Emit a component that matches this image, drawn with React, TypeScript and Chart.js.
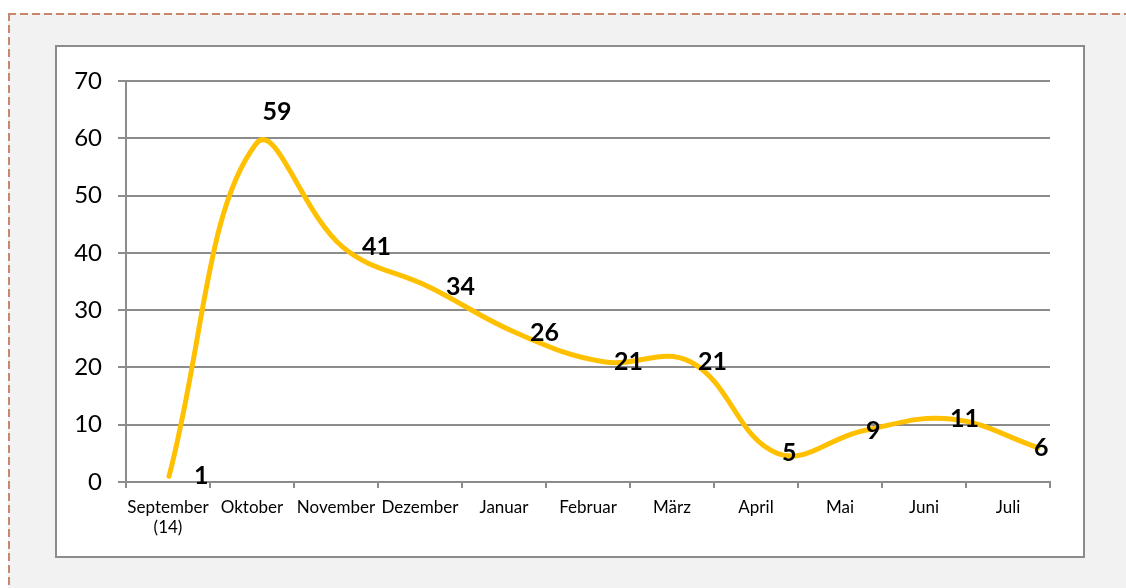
import React, { useEffect, useRef } from "react";
import { Chart, registerables } from "chart.js";

Chart.register(...registerables);

const categories: (string | string[])[] = [
  ["September", "(14)"],
  "Oktober",
  "November",
  "Dezember",
  "Januar",
  "Februar",
  "März",
  "April",
  "Mai",
  "Juni",
  "Juli",
];
const values: number[] = [1, 59, 41, 34, 26, 21, 21, 5, 9, 11, 6];
const yTicks = { min: 0, max: 70, step: 10 };
// hidden linear axis range used to place the smoothed line
const lineAxisRange = { min: -0.495, max: 10.138 };

const FONT = "Lato, 'Open Sans', sans-serif";

const labelPlugin = {
  id: "valueLabels",
  afterDatasetsDraw(chart: any) {
    const { ctx } = chart;
    const xs = chart.scales.x;
    const ys = chart.scales.y;
    const maxV = Math.max(...values);
    ctx.save();
    ctx.fillStyle = "#000";
    ctx.font = `bold 25px ${FONT}`;
    ctx.textBaseline = "middle";
    values.forEach((v, i) => {
      const cx = xs.getPixelForValue(i);
      const cy = ys.getPixelForValue(v);
      if (v === maxV) {
        ctx.textAlign = "center";
        ctx.fillText(String(v), cx + 25, cy - 32);
      } else {
        ctx.textAlign = "left";
        ctx.fillText(String(v), cx + 26, cy);
      }
    });
    ctx.restore();
  },
};

const dash = (dir: string) =>
  `repeating-linear-gradient(${dir}, #c8866a 0px, #c8866a 8px, transparent 8px, transparent 12px)`;

export default function App() {
  const ref = useRef<HTMLCanvasElement | null>(null);
  useEffect(() => {
    const canvas = ref.current;
    if (!canvas) return;
    const chart = new Chart(canvas, {
      type: "line",
      data: {
        labels: categories as any,
        datasets: [
          {
            data: values.map((v, i) => ({ x: i, y: v })),
            xAxisID: "xl",
            yAxisID: "y",
            borderColor: "#FFC000",
            borderWidth: 5,
            borderCapStyle: "round",
            borderJoinStyle: "round",
            pointRadius: 0,
            pointHoverRadius: 0,
            tension: 0.4,
            fill: false,
          },
        ],
      },
      options: {
        animation: false,
        responsive: false,
        maintainAspectRatio: false,
        events: [],
        layout: { padding: { left: 0, top: 81, right: 76, bottom: 0 } },
        plugins: { legend: { display: false }, tooltip: { enabled: false } },
        scales: {
          x: {
            type: "category",
            offset: true,
            grid: {
              offset: true,
              drawOnChartArea: false,
              drawTicks: true,
              tickLength: 6,
              color: "#8c8c8c",
              lineWidth: 2,
            },
            border: { color: "#8c8c8c", width: 2 },
            ticks: {
              color: "#000",
              font: { family: FONT, size: 17, lineHeight: 1.15 },
              padding: 10,
              maxRotation: 0,
              autoSkip: false,
            },
            afterFit: (s: any) => {
              s.height = 106;
            },
          },
          xl: {
            type: "linear",
            display: false,
            min: lineAxisRange.min,
            max: lineAxisRange.max,
          },
          y: {
            min: yTicks.min,
            max: yTicks.max,
            ticks: {
              stepSize: yTicks.step,
              color: "#000",
              font: { family: FONT, size: 24 },
              padding: 16,
            },
            grid: { color: "#8c8c8c", lineWidth: 2, tickLength: 8 },
            border: { color: "#8c8c8c", width: 2 },
            afterFit: (s: any) => {
              s.width = 126;
            },
          },
        },
      },
      plugins: [labelPlugin],
    });
    return () => chart.destroy();
  }, []);

  return (
    <>
      <div
        style={{
          position: "fixed",
          left: 8,
          top: 13,
          width: 1300,
          height: 800,
          background: "#f2f2f2",
        }}
      />
      <div
        style={{
          position: "fixed",
          left: 8,
          top: 13,
          width: 1300,
          height: 2,
          background: dash("to right"),
        }}
      />
      <div
        style={{
          position: "fixed",
          left: 8,
          top: 13,
          width: 2,
          height: 800,
          background: dash("to bottom"),
        }}
      />
      <div
        style={{
          position: "fixed",
          left: 55,
          top: 45,
          width: 1030,
          height: 513,
          boxSizing: "border-box",
          border: "2px solid #8c8c8c",
          background: "#fff",
        }}
      />
      <canvas
        ref={ref}
        width={1126}
        height={588}
        style={{ position: "fixed", left: 0, top: 0, width: 1126, height: 588 }}
      />
    </>
  );
}
